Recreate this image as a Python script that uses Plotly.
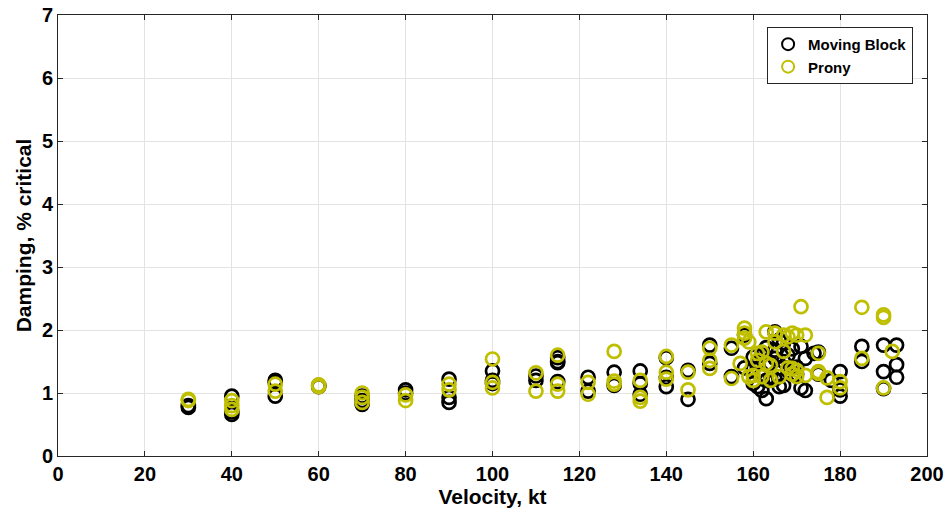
import plotly.graph_objects as go

# Moving Block (black)
mb_x = [30, 30, 40, 40, 40, 50, 50, 50, 60, 60, 70, 70, 70, 80, 80, 90, 90, 90,
        100, 100, 100, 110, 110, 115, 115, 115, 115, 122, 122, 128, 128,
        134, 134, 134, 140, 140, 140, 145, 145, 150, 150, 155, 155, 158, 158,
        160, 160, 160, 161, 161, 162, 162, 162, 163, 163, 163, 164, 164,
        165, 165, 165, 165, 166, 166, 166, 167, 167, 167, 168, 168, 169, 169,
        170, 170, 171, 171, 172, 172, 174, 175, 175, 178, 180, 180, 180,
        185, 185, 190, 190, 190, 193, 193, 193]
mb_y = [0.77, 0.80, 0.95, 0.70, 0.66, 1.20, 1.17, 0.95, 1.12, 1.10, 0.95, 0.88, 0.82, 1.05, 1.00, 1.22, 0.93, 0.85,
        1.35, 1.20, 1.15, 1.27, 1.20, 1.56, 1.50, 1.48, 1.18, 1.25, 1.03, 1.33, 1.12,
        1.35, 1.15, 0.98, 1.56, 1.25, 1.10, 1.36, 0.90, 1.76, 1.47, 1.71, 1.26, 1.92, 1.40,
        1.57, 1.39, 1.15, 1.49, 1.10, 1.60, 1.30, 1.04, 1.72, 1.20, 0.91, 1.47, 1.25,
        1.97, 1.68, 1.55, 1.22, 1.84, 1.40, 1.10, 1.80, 1.50, 1.12, 1.60, 1.35, 1.70, 1.40,
        1.41, 1.30, 1.74, 1.08, 1.55, 1.04, 1.63, 1.65, 1.30, 1.20, 1.34, 1.05, 0.95,
        1.74, 1.50, 1.76, 1.34, 1.07, 1.76, 1.45, 1.25]

# Prony (yellow)
pr_x = [30, 30, 40, 40, 40, 50, 50, 60, 60, 70, 70, 70, 80, 80, 90, 90,
        100, 100, 100, 110, 110, 115, 115, 115, 122, 122, 128, 128, 128,
        134, 134, 134, 140, 140, 140, 145, 145, 150, 150, 150, 155, 155, 157,
        158, 158, 158, 159, 159, 160, 160, 161, 161, 162, 162, 163, 163, 164, 164,
        165, 165, 166, 167, 167, 168, 168, 169, 169, 169, 170, 170, 170, 171,
        172, 172, 175, 175, 175, 177, 177, 180, 180, 185, 185, 190, 190, 190, 192]
pr_y = [0.90, 0.88, 0.88, 0.80, 0.74, 1.14, 1.03, 1.13, 1.10, 1.00, 0.93, 0.85, 0.97, 0.88, 1.14, 1.05,
        1.54, 1.17, 1.08, 1.32, 1.03, 1.60, 1.14, 1.03, 1.17, 0.98, 1.66, 1.19, 1.14,
        1.20, 0.93, 0.87, 1.58, 1.33, 1.22, 1.33, 1.05, 1.71, 1.52, 1.39, 1.76, 1.23, 1.47,
        2.03, 1.95, 1.87, 1.81, 1.26, 1.28, 1.20, 1.63, 1.52, 1.65, 1.26, 1.97, 1.47, 1.44, 1.20,
        1.95, 1.81, 1.26, 1.92, 1.66, 1.89, 1.40, 1.95, 1.39, 1.30, 1.92, 1.36, 1.26, 2.37,
        1.92, 1.28, 1.63, 1.34, 1.31, 1.24, 0.93, 1.18, 1.08, 2.36, 1.55, 2.24, 2.20, 1.08, 1.66]

x_ticks = [0, 20, 40, 60, 80, 100, 120, 140, 160, 180, 200]
y_ticks = [0, 1, 2, 3, 4, 5, 6, 7]

BLACK = "#000000"
YEL = "rgb(191,191,0)"
FONT = "Liberation Sans"

fig = go.Figure()
fig.add_trace(go.Scatter(
    x=mb_x, y=mb_y, mode="markers", name="Moving Block",
    marker=dict(symbol="circle-open", size=13, color=BLACK, line=dict(width=2.7, color=BLACK)),
))
fig.add_trace(go.Scatter(
    x=pr_x, y=pr_y, mode="markers", name="Prony",
    marker=dict(symbol="circle-open", size=13, color=YEL, line=dict(width=2.7, color=YEL)),
))

axis_common = dict(
    showline=True, linecolor="#262626", linewidth=1, mirror="ticks",
    ticks="inside", ticklen=5, tickcolor="#262626",
    showgrid=True, gridcolor="#E3E3E3", gridwidth=1, zeroline=False,
    automargin=False,
    tickfont=dict(family=FONT, size=20, color="#000000", weight="bold"),
)

fig.update_xaxes(
    range=[0, 200], tickvals=x_ticks, ticktext=[str(v) for v in x_ticks],
    title=dict(text="Velocity, kt", font=dict(family=FONT, size=21, color="#000", weight="bold"), standoff=2),
    **axis_common,
)
fig.update_yaxes(
    range=[0, 7], tickvals=y_ticks, ticktext=[str(v) for v in y_ticks],
    title=dict(text="Damping, % critical", font=dict(family=FONT, size=21, color="#000", weight="bold"), standoff=4),
    **axis_common,
)

fig.update_layout(
    width=946, height=513,
    margin=dict(l=58, r=19, t=15, b=57),
    plot_bgcolor="white", paper_bgcolor="white",
    showlegend=True,
    legend=dict(
        x=0.984, y=0.973, xanchor="right", yanchor="top",
        bgcolor="white", bordercolor="#262626", borderwidth=1,
        font=dict(family=FONT, size=15, color="#000", weight="bold"),
        itemsizing="constant", tracegroupgap=0,
    ),
)

fig.write_html("out.html", config={"displayModeBar": False},
               post_script="document.body.style.margin='0px';")
